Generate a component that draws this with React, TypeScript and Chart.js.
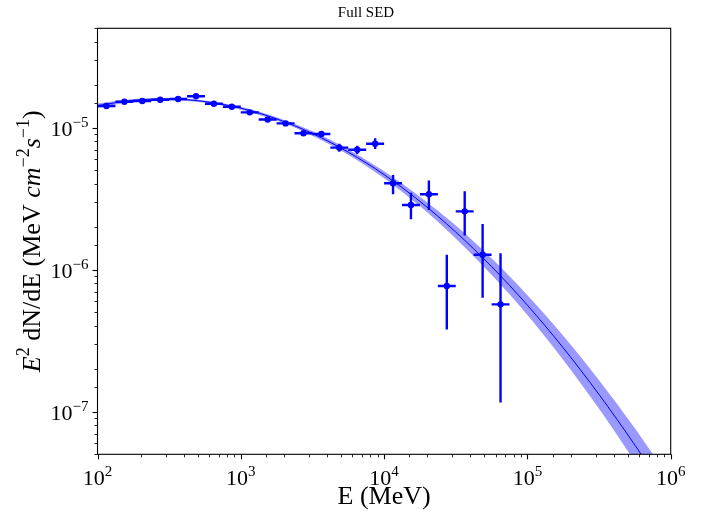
import React, { useEffect, useRef } from 'react';
import { Chart, registerables } from 'chart.js';

Chart.register(...registerables);

// Energy bins (MeV): centers and edges
const binCenters = [115.5, 154.0, 205.4, 273.8, 365.2, 487.0, 649.4, 866.0, 1155, 1540, 2054, 2738, 3652, 4870, 6494, 8660, 11548, 15399, 20535, 27384, 36517, 48697, 64938];
const binLow = [100, 133.4, 177.8, 237.1, 316.2, 421.7, 562.3, 749.9, 1000, 1333.5, 1778.3, 2371.4, 3162.3, 4217, 5623, 7499, 10000, 13335, 17783, 23714, 31623, 42170, 56234];
const binHigh = [133.4, 177.8, 237.1, 316.2, 421.7, 562.3, 749.9, 1000, 1333.5, 1778.3, 2371.4, 3162.3, 4217, 5623, 7499, 10000, 13335, 17783, 23714, 31623, 42170, 56234, 74989];

// E^2 dN/dE (MeV cm^-2 s^-1)
const flux = [1.42e-5, 1.52e-5, 1.54e-5, 1.57e-5, 1.59e-5, 1.66e-5, 1.47e-5, 1.40e-5, 1.28e-5, 1.14e-5, 1.07e-5, 9.12e-6, 9.0e-6, 7.22e-6, 6.98e-6, 7.69e-6, 4.05e-6, 2.85e-6, 3.39e-6, 7.66e-7, 2.57e-6, 1.27e-6, 5.69e-7];
const fluxLow = [1.39e-5, 1.49e-5, 1.51e-5, 1.54e-5, 1.56e-5, 1.62e-5, 1.44e-5, 1.37e-5, 1.24e-5, 1.10e-5, 1.03e-5, 8.75e-6, 8.65e-6, 6.75e-6, 6.50e-6, 7.05e-6, 3.39e-6, 2.26e-6, 2.63e-6, 3.79e-7, 1.74e-6, 6.34e-7, 1.16e-7];
const fluxHigh = [1.45e-5, 1.55e-5, 1.57e-5, 1.60e-5, 1.62e-5, 1.70e-5, 1.50e-5, 1.43e-5, 1.32e-5, 1.18e-5, 1.11e-5, 9.50e-6, 9.35e-6, 7.70e-6, 7.45e-6, 8.41e-6, 4.63e-6, 3.48e-6, 4.23e-6, 1.27e-6, 3.56e-6, 2.09e-6, 1.30e-6];

// Model curve and its uncertainty band
const modelE = [100, 178, 316, 562, 1000, 1778, 3162, 5623, 10000, 17783, 31623, 56234, 100000, 177828, 316228, 562341, 1000000];
const modelFlux = [1.426e-5, 1.556e-5, 1.589e-5, 1.524e-5, 1.368e-5, 1.151e-5, 9.08e-6, 6.71e-6, 4.66e-6, 3.02e-6, 1.837e-6, 1.050e-6, 5.61e-7, 2.81e-7, 1.318e-7, 5.81e-8, 2.40e-8];
const modelUpper = [1.479e-5, 1.592e-5, 1.618e-5, 1.552e-5, 1.400e-5, 1.183e-5, 9.40e-6, 7.01e-6, 4.93e-6, 3.26e-6, 2.04e-6, 1.199e-6, 6.59e-7, 3.42e-7, 1.660e-7, 7.62e-8, 3.27e-8];
const modelLower = [1.374e-5, 1.521e-5, 1.560e-5, 1.496e-5, 1.337e-5, 1.119e-5, 8.77e-6, 6.43e-6, 4.40e-6, 2.80e-6, 1.656e-6, 9.18e-7, 4.78e-7, 2.31e-7, 1.047e-7, 4.43e-8, 1.758e-8];

// Axes
const xRange = [1e2, 1e6];
const yRange = [5e-8, 5e-5];
const xTickExponents = [2, 3, 4, 5, 6];
const yTickExponents = [-7, -6, -5];
const titleText = 'Full SED';
const xTitle = 'E (MeV)';

const SERIF = '"Liberation Serif", "DejaVu Serif", serif';
const BLUE = '#0000ff';

type Seg = { t: string; it?: boolean; sup?: boolean };
const yTitleSegs: Seg[] = [
  { t: 'E', it: true },
  { t: '2', sup: true },
  { t: ' dN/dE (MeV ' },
  { t: 'cm', it: true },
  { t: '\u22122', sup: true },
  { t: 's', it: true },
  { t: '\u22121', sup: true },
  { t: ')' },
];

function fontFor(s: Seg, base: number) {
  const size = s.sup ? Math.round(base * 0.7) : base;
  return `${s.it ? 'italic ' : ''}${size}px ${SERIF}`;
}

function segWidth(ctx: CanvasRenderingContext2D, segs: Seg[], base: number) {
  let w = 0;
  for (const s of segs) {
    ctx.font = fontFor(s, base);
    w += ctx.measureText(s.t).width;
  }
  return w;
}

function drawSegs(ctx: CanvasRenderingContext2D, segs: Seg[], x: number, baseline: number, base: number) {
  let cx = x;
  const raise = base * 0.41;
  for (const s of segs) {
    ctx.font = fontFor(s, base);
    ctx.fillText(s.t, cx, s.sup ? baseline - raise : baseline);
    cx += ctx.measureText(s.t).width;
  }
}

function expLabel(e: number): Seg[] {
  return [{ t: '10' }, { t: (e < 0 ? '\u2212' : '') + Math.abs(e), sup: true }];
}

const isMajor = (v: number) => {
  const l = Math.log10(v);
  return Math.abs(l - Math.round(l)) < 1e-6;
};

const TICK_FONT = 22;
const LABEL_FONT = 26;

const axesPlugin = {
  id: 'sedAxes',
  afterDraw(chart: any) {
    const ctx: CanvasRenderingContext2D = chart.ctx;
    const { left, right, top, bottom } = chart.chartArea;
    const xs = chart.scales.x;
    const ys = chart.scales.y;
    ctx.save();
    ctx.fillStyle = '#000';
    ctx.strokeStyle = '#000';
    ctx.textBaseline = 'alphabetic';
    ctx.textAlign = 'left';

    // ticks
    for (const t of xs.ticks) {
      const v = t.value;
      if (v < xRange[0] * 0.999 || v > xRange[1] * 1.001) continue;
      const px = Math.round(xs.getPixelForValue(v)) + 0.5;
      const major = isMajor(v);
      ctx.lineWidth = major ? 1.1 : 0.85;
      ctx.beginPath();
      ctx.moveTo(px, bottom);
      ctx.lineTo(px, bottom + (major ? 5 : 3));
      ctx.stroke();
    }
    for (const t of ys.ticks) {
      const v = t.value;
      if (v < yRange[0] * 0.999 || v > yRange[1] * 1.001) continue;
      const py = Math.round(ys.getPixelForValue(v)) + 0.5;
      const major = isMajor(v);
      ctx.lineWidth = major ? 1.1 : 0.85;
      ctx.beginPath();
      ctx.moveTo(left, py);
      ctx.lineTo(left - (major ? 5 : 3), py);
      ctx.stroke();
    }

    // frame
    ctx.lineWidth = 1.1;
    ctx.strokeRect(left, top, right - left, bottom - top);

    // tick labels
    for (const e of xTickExponents) {
      const px = xs.getPixelForValue(Math.pow(10, e));
      const segs = expLabel(e);
      const w = segWidth(ctx, segs, TICK_FONT);
      drawSegs(ctx, segs, px - w / 2, bottom + 31, TICK_FONT);
    }
    for (const e of yTickExponents) {
      const py = ys.getPixelForValue(Math.pow(10, e));
      const segs = expLabel(e);
      const w = segWidth(ctx, segs, TICK_FONT);
      drawSegs(ctx, segs, left - 9 - w, py + 8, TICK_FONT);
    }

    // title
    ctx.font = `15px ${SERIF}`;
    ctx.textAlign = 'center';
    ctx.fillText(titleText, 366, 17);
    ctx.textAlign = 'left';

    // y axis title
    ctx.translate(31, (top + bottom) / 2);
    ctx.rotate(-Math.PI / 2);
    const tw = segWidth(ctx, yTitleSegs, LABEL_FONT);
    drawSegs(ctx, yTitleSegs, -tw / 2, 9, LABEL_FONT);
    ctx.restore();
  },
};

export default function App() {
  const ref = useRef<HTMLCanvasElement | null>(null);

  useEffect(() => {
    document.body.style.margin = '0';
    const canvas = ref.current;
    if (!canvas) return;

    const points = binCenters.map((x, i) => ({ x, y: flux[i] }));
    const xErr: any[] = [];
    const yErr: any[] = [];
    binCenters.forEach((c, i) => {
      xErr.push({ x: binLow[i], y: flux[i] }, { x: binHigh[i], y: flux[i] }, { x: binHigh[i], y: null });
      yErr.push({ x: c, y: fluxLow[i] }, { x: c, y: fluxHigh[i] }, { x: c, y: null });
    });
    const model = modelE.map((x, i) => ({ x, y: modelFlux[i] }));
    const upper = modelE.map((x, i) => ({ x, y: modelUpper[i] }));
    const lower = modelE.map((x, i) => ({ x, y: modelLower[i] }));

    const chart = new Chart(canvas, {
      type: 'line',
      data: {
        datasets: [
          {
            label: 'Flux points',
            data: points,
            showLine: false,
            pointRadius: 3.2,
            pointBackgroundColor: BLUE,
            pointBorderWidth: 0,
            borderColor: BLUE,
            order: 0,
          } as any,
          {
            label: 'x errors',
            data: xErr,
            borderColor: BLUE,
            borderWidth: 2.4,
            pointRadius: 0,
            spanGaps: false,
            fill: false,
            order: 1,
          },
          {
            label: 'y errors',
            data: yErr,
            borderColor: BLUE,
            borderWidth: 2.4,
            pointRadius: 0,
            spanGaps: false,
            fill: false,
            order: 1,
          },
          {
            label: 'Model',
            data: model,
            borderColor: BLUE,
            borderWidth: 1,
            pointRadius: 0,
            cubicInterpolationMode: 'monotone',
            fill: false,
            order: 2,
          },
          {
            label: 'Band upper',
            data: upper,
            borderWidth: 0,
            borderColor: 'rgba(0,0,0,0)',
            backgroundColor: 'rgba(0,0,255,0.4)',
            pointRadius: 0,
            cubicInterpolationMode: 'monotone',
            fill: '+1',
            order: 3,
          },
          {
            label: 'Band lower',
            data: lower,
            borderWidth: 0,
            borderColor: 'rgba(0,0,0,0)',
            pointRadius: 0,
            cubicInterpolationMode: 'monotone',
            fill: false,
            order: 3,
          },
        ],
      },
      options: {
        responsive: false,
        maintainAspectRatio: false,
        animation: false,
        events: [],
        layout: { padding: { top: 28.3, right: 35.3, bottom: 0, left: 0 } },
        plugins: {
          legend: { display: false },
          tooltip: { enabled: false },
          title: { display: false, text: titleText },
        },
        scales: {
          x: {
            type: 'logarithmic',
            min: xRange[0],
            max: xRange[1],
            grid: { display: false },
            border: { display: false },
            ticks: { display: false },
            title: {
              display: true,
              text: xTitle,
              color: '#000',
              font: { family: SERIF, size: LABEL_FONT },
              padding: { top: 0, bottom: 0 },
            },
            afterFit: (s: any) => {
              s.height = 58.7;
            },
          },
          y: {
            type: 'logarithmic',
            min: yRange[0],
            max: yRange[1],
            grid: { display: false },
            border: { display: false },
            ticks: { display: false },
            afterFit: (s: any) => {
              s.width = 97.5;
            },
          },
        },
      } as any,
      plugins: [axesPlugin],
    });

    return () => chart.destroy();
  }, []);

  return (
    <div style={{ width: 706, height: 513, background: '#fff' }}>
      <canvas ref={ref} width={706} height={513} style={{ display: 'block' }} />
    </div>
  );
}
